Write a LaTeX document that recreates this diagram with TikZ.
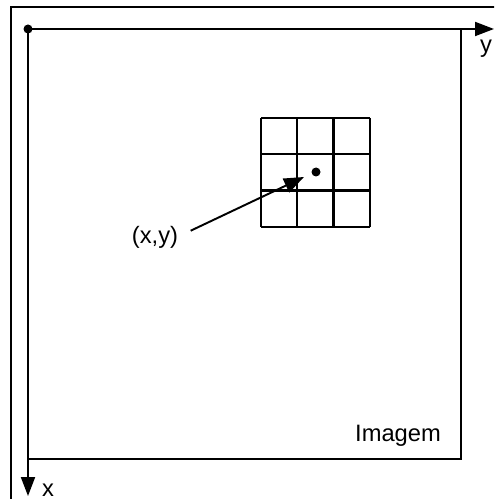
\documentclass[tikz,border=0pt]{standalone}
\usepackage{fontspec}
\setmainfont{Liberation Sans}
\usetikzlibrary{arrows.meta}
\begin{document}
\begin{tikzpicture}[x=0.02cm, y=-0.02cm, font=\fontsize{13.5}{15}\selectfont]

    % Style for general text nodes
    \tikzset{lbl/.style={inner sep=1pt, align=center}}
    \tikzset{axisline/.style={line width=1.1pt, -{Triangle[length=0.38cm, width=0.28cm]}}}
    \tikzset{gridline/.style={line width=1.3pt}}

    % Define corners of the image and the 3x3 neighbourhood
    \def\xorg{28}    % Origin of the axes
    \def\yorg{29}
    \def\xend{461}   % Right edge of the image
    \def\yend{459}   % Bottom edge of the image
    \def\xgrid{261}  % Top left corner of the neighbourhood
    \def\ygrid{118}
    \def\cell{36.3}  % Size of one cell

    \useasboundingbox (0,0) rectangle (494,499);
    \clip (0,0) rectangle (494,499);

    % --- Outer frame (cut by the picture border) ---
    \draw[line width=1.6pt] (11,505) -- (11,7) -- (505,7);

    % --- Image outline and axes ---
    \coordinate (org) at (\xorg, \yorg);
    \coordinate (ytip) at (494, \yorg);
    \coordinate (xtip) at (\xorg, 496);
    \draw[line width=1.1pt] (\xend, \yorg) -- (\xend, \yend) -- (\xorg, \yend);
    \draw[axisline] (org) -- (ytip);
    \draw[axisline] (org) -- (xtip);
    \fill (org) circle (4.5);

    \node[lbl] (ylbl) at (486, 49) {y};
    \node[lbl] (xlbl) at (48, 490) {x};
    \node[lbl] (img) at (398, 436) {Imagem};

    % --- Neighbourhood of 3x3 pixels ---
    \foreach \i in {0,...,3} {
        \draw[gridline] (\xgrid + \i*\cell, \ygrid) -- (\xgrid + \i*\cell, \ygrid + 3*\cell);
        \draw[gridline] (\xgrid, \ygrid + \i*\cell) -- (\xgrid + 3*\cell, \ygrid + \i*\cell);
    }
    \fill (316, 172) circle (4.5);

    % Pointer to the pixel (x,y)
    \node[lbl, inner sep=7pt] (xy) at (155, 237) {(x,y)};
    \coordinate (ptip) at (304, 177);
    \draw[line width=1.1pt, -{Triangle[length=0.4cm, width=0.3cm]}] (xy.10) -- (ptip);
\end{tikzpicture}
\end{document}
